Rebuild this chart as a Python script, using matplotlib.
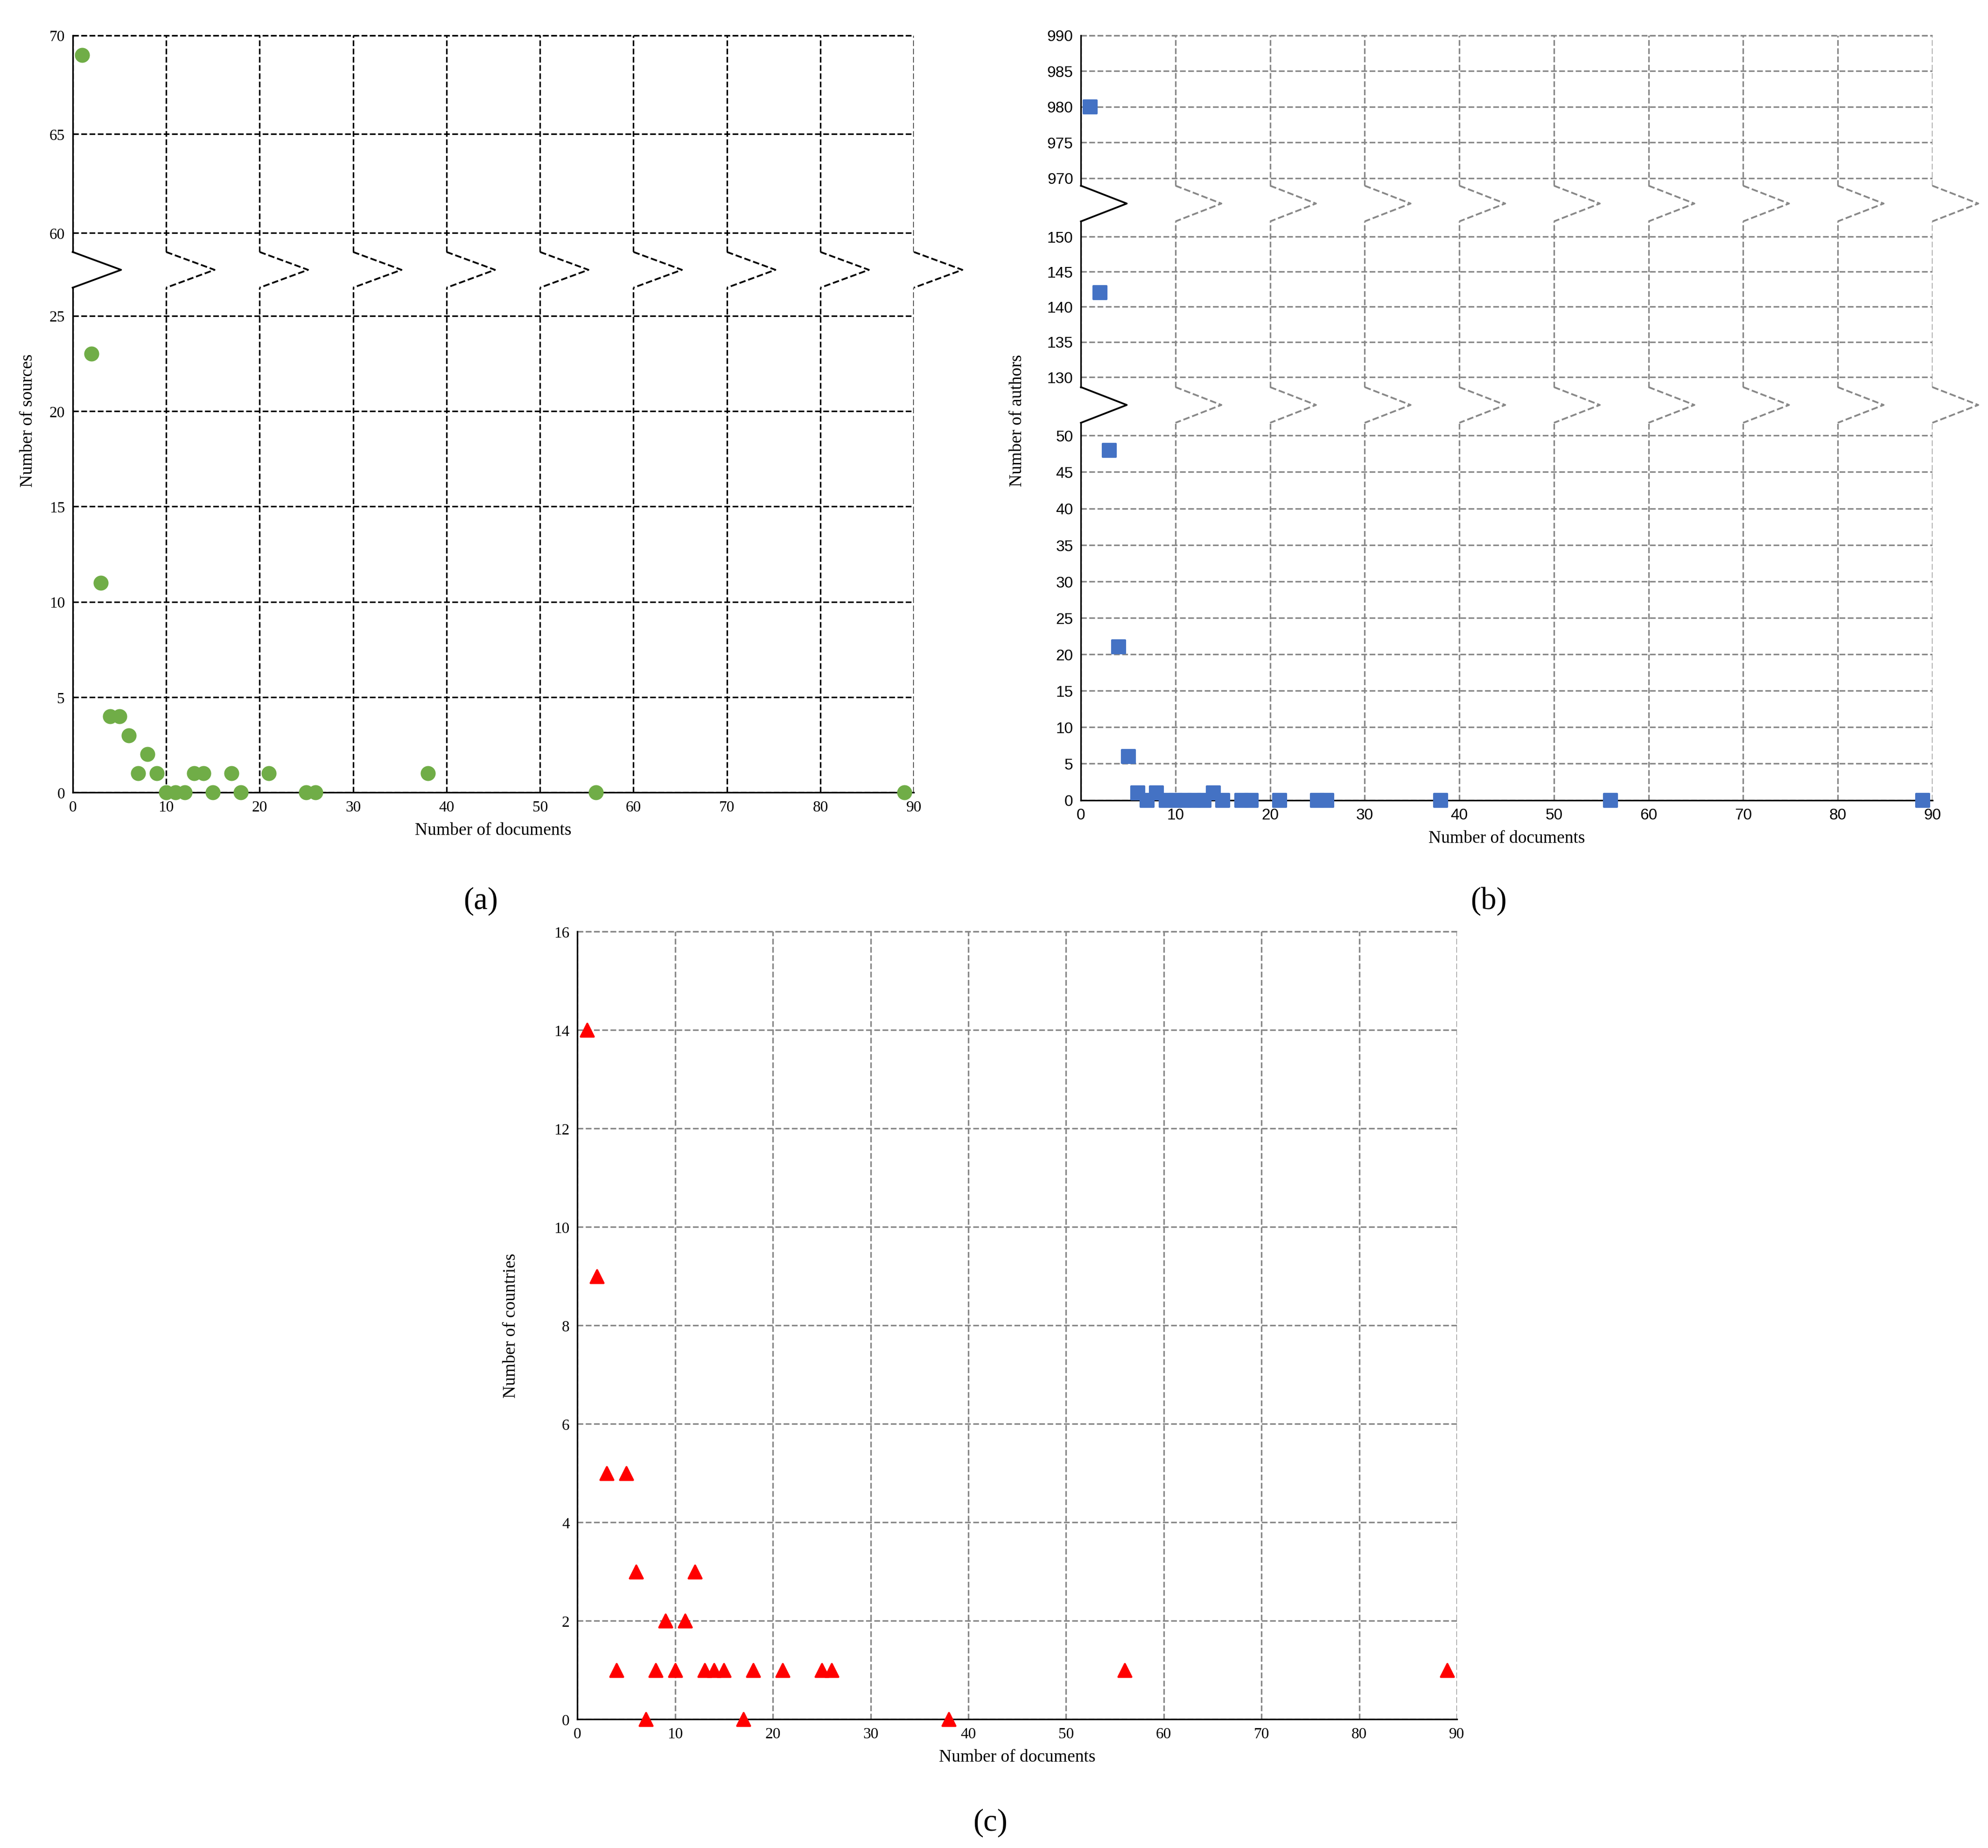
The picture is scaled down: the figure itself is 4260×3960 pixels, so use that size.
import numpy as np
import matplotlib.pyplot as plt

plt.rcParams['font.family'] = ['Liberation Serif', 'DejaVu Serif']

# documents per item (shared x values)
docs = [1, 2, 3, 4, 5, 6, 7, 8, 9, 10, 11, 12, 13, 14, 15, 17, 18, 21, 25, 26, 38, 56, 89]
sources = [69, 23, 11, 4, 4, 3, 1, 2, 1, 0, 0, 0, 1, 1, 0, 1, 0, 1, 0, 0, 1, 0, 0]
authors = [980, 142, 48, 21, 6, 1, 0, 1, 0, 0, 0, 0, 0, 1, 0, 0, 0, 0, 0, 0, 0, 0, 0]
countries = [14, 9, 5, 1, 5, 3, 0, 1, 2, 1, 2, 3, 1, 1, 1, 0, 1, 1, 1, 1, 0, 1, 1]

W, H = 1560.0, 1450.0
fig = plt.figure(figsize=(14.203, 13.203), dpi=300)


def add_ax(x0, x1, ytop, ybot):
    return fig.add_axes([x0 / W, 1 - ybot / H, (x1 - x0) / W, (ybot - ytop) / H])


def zigzag(x0, x1, xs, y, amp, dx, ls, col, lw):
    for k, xv in enumerate(xs):
        px = x0 + xv / 90.0 * (x1 - x0)
        pts_x = [px, px + dx, px]
        pts_y = [y - amp, y, y + amp]
        style = '-' if k == 0 else ls
        c = 'black' if k == 0 else col
        fig.add_artist(plt.Line2D(np.array(pts_x) / W, 1 - np.array(pts_y) / H,
                                  ls=style, color=c, lw=lw, transform=fig.transFigure))


def scatter_in(ax, x, y, lo, hi, **kw):
    # only the points that fall in this segment of a broken axis
    xs = [a for a, b in zip(x, y) if lo <= b <= hi]
    ys = [b for b in y if lo <= b <= hi]
    ax.scatter(xs, ys, zorder=3, clip_on=False, **kw)


def style(ax, gridcol, bottom=True):
    ax.set_xlim(0, 90)
    ax.set_xticks(range(0, 91, 10))
    ax.grid(True, ls='--', color=gridcol, lw=0.8)
    ax.set_axisbelow(True)
    for s in ['top', 'right']:
        ax.spines[s].set_visible(False)
    if not bottom:
        ax.spines['bottom'].set_visible(False)
        ax.tick_params(axis='x', bottom=False, labelbottom=False)
    ax.tick_params(labelsize=8, length=0, pad=4)


# ---- (a)
xa0, xa1 = 57, 717
axa_t = add_ax(xa0, xa1, 28, 198)
axa_b = add_ax(xa0, xa1, 226, 622)
scatter_in(axa_t, docs, sources, 59, 70, s=45, color='#70AD47')
scatter_in(axa_b, docs, sources, 0, 26.4, s=45, color='#70AD47')
axa_t.set_ylim(59.03, 70)
axa_t.set_yticks([60, 65, 70])
axa_b.set_ylim(0, 26.47)
axa_b.set_yticks(range(0, 26, 5))
style(axa_t, 'black', bottom=False)
style(axa_b, 'black')
axa_t.axhline(70, ls='--', color='black', lw=0.8, clip_on=False)
zigzag(xa0, xa1, range(0, 91, 10), 212, 14, 38, '--', 'black', 0.9)
axa_b.set_xlabel('Number of documents', fontsize=9)
fig.text(22 / W, 1 - 330 / H, 'Number of sources', rotation=90, fontsize=9,
         ha='center', va='center')
fig.text(377 / W, 1 - 707 / H, '(a)', fontsize=16, ha='center', va='center')

# ---- (b)
xb0, xb1 = 848, 1516
axb_1 = add_ax(xb0, xb1, 28, 146)
axb_2 = add_ax(xb0, xb1, 174, 304)
axb_3 = add_ax(xb0, xb1, 332, 628)
scatter_in(axb_1, docs, authors, 960, 1000, s=45, marker='s', color='#4472C4')
scatter_in(axb_2, docs, authors, 120, 160, s=45, marker='s', color='#4472C4')
scatter_in(axb_3, docs, authors, 0, 52, s=45, marker='s', color='#4472C4')
axb_1.set_ylim(970 - 6 / 5.6, 990)
axb_1.set_yticks(range(970, 991, 5))
axb_2.set_ylim(130 - 8 / 5.5, 150 + 12 / 5.5)
axb_2.set_yticks(range(130, 151, 5))
axb_3.set_ylim(0, 50 + 10 / 5.72)
axb_3.set_yticks(range(0, 51, 5))
style(axb_1, '#888888', bottom=False)
style(axb_2, '#888888', bottom=False)
style(axb_3, '#888888')
axb_1.axhline(990, ls='--', color='#888888', lw=0.8, clip_on=False)
for ax in (axb_1, axb_2, axb_3):
    for lab in ax.get_xticklabels() + ax.get_yticklabels():
        lab.set_family(['Liberation Sans Narrow', 'Liberation Sans', 'DejaVu Sans'])
zigzag(xb0, xb1, range(0, 91, 10), 160, 14, 36, '--', '#888888', 0.9)
zigzag(xb0, xb1, range(0, 91, 10), 318, 14, 36, '--', '#888888', 0.9)
axb_3.set_xlabel('Number of documents', fontsize=9)
fig.text(798 / W, 1 - 330 / H, 'Number of authors', rotation=90, fontsize=9,
         ha='center', va='center')
fig.text(1168 / W, 1 - 707 / H, '(b)', fontsize=16, ha='center', va='center')

# ---- (c)
axc = add_ax(453, 1143, 731, 1349)
axc.scatter(docs, countries, s=45, marker='^', color='red', zorder=3, clip_on=False)
axc.set_ylim(0, 16)
axc.set_yticks(range(0, 17, 2))
style(axc, '#888888')
axc.axhline(16, ls='--', color='#888888', lw=0.8, clip_on=False)
axc.set_xlabel('Number of documents', fontsize=9)
axc.set_ylabel('Number of countries', fontsize=9, labelpad=18)
fig.text(777 / W, 1 - 1430 / H, '(c)', fontsize=16, ha='center', va='center')

fig.savefig('out.png', dpi=300, facecolor='white')
